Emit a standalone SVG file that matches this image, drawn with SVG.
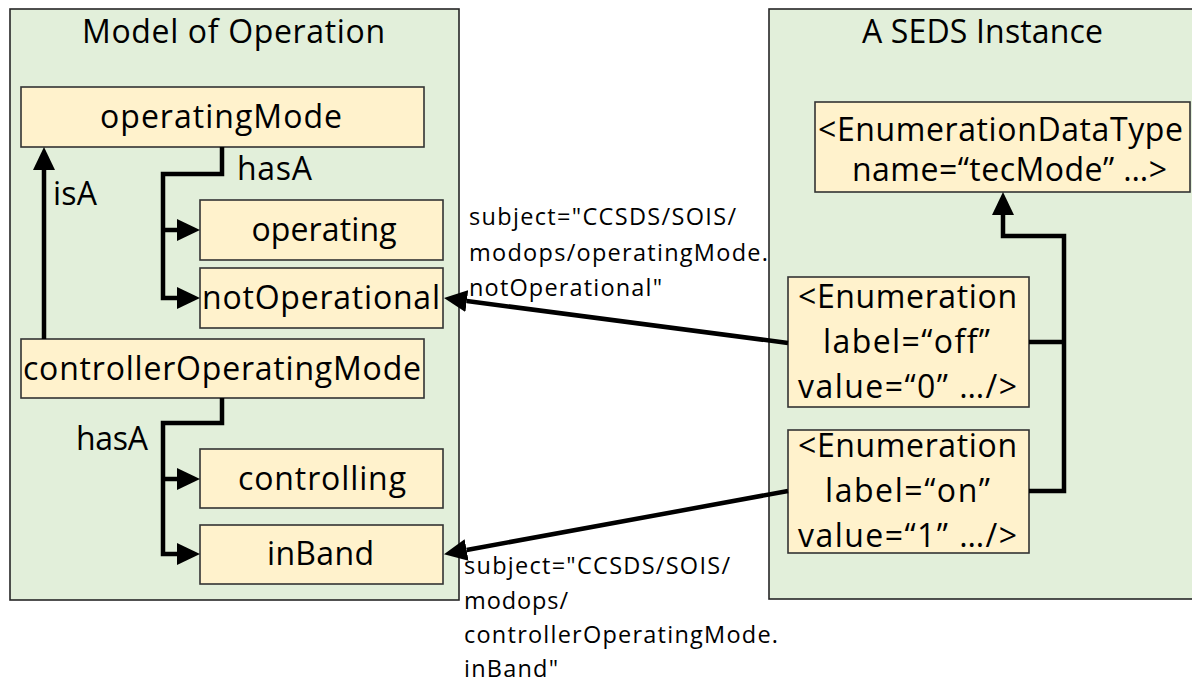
<svg xmlns="http://www.w3.org/2000/svg" width="1192" height="684" viewBox="0 0 1192 684">
  <style>
    .panel { fill: #E2EFDA; stroke: #262626; stroke-width: 1.6; }
    .box { fill: #FFF2CC; stroke: #333333; stroke-width: 1.6; }
    .t { font-family: "Open Sans", "Liberation Sans", sans-serif; font-size: 32px; fill: #000; font-variant-ligatures: none; }
    .s { font-family: "Open Sans", "Liberation Sans", sans-serif; font-size: 23.5px; fill: #000; font-variant-ligatures: none; }
    .c { text-anchor: middle; }
    .link { fill: none; stroke: #000; stroke-width: 4.5; stroke-linejoin: miter; }
  </style>
  <defs>
    <marker id="head" viewBox="0 0 23 22" refX="0" refY="11" markerWidth="23" markerHeight="22" markerUnits="userSpaceOnUse" orient="auto">
      <path d="M0,0 L23,11 L0,22 z" fill="#000"/>
    </marker>
  </defs>

  <rect width="1192" height="684" fill="#fff"/>

  <!-- containers -->
  <g id="model-of-operation">
    <rect class="panel" x="10" y="9" width="449" height="591"/>
    <text class="t" x="82" y="43" textLength="303" lengthAdjust="spacing">Model of Operation</text>
  </g>
  <g id="seds-instance">
    <rect class="panel" x="769" y="9" width="430" height="590"/>
    <text class="t" x="862" y="43" textLength="241" lengthAdjust="spacing">A SEDS Instance</text>
  </g>

  <!-- model nodes -->
  <g id="operatingMode">
    <rect class="box" x="21" y="87" width="403" height="60"/>
    <text class="t c" x="221" y="128" textLength="242" lengthAdjust="spacing">operatingMode</text>
  </g>
  <g id="operating">
    <rect class="box" x="200" y="200" width="243" height="60"/>
    <text class="t c" x="324" y="241" textLength="145" lengthAdjust="spacing">operating</text>
  </g>
  <g id="notOperational">
    <rect class="box" x="200" y="268" width="243" height="60"/>
    <text class="t c" x="321" y="309" textLength="238" lengthAdjust="spacing">notOperational</text>
  </g>
  <g id="controllerOperatingMode">
    <rect class="box" x="21" y="339" width="403" height="59"/>
    <text class="t c" x="222" y="380" textLength="398" lengthAdjust="spacing">controllerOperatingMode</text>
  </g>
  <g id="controlling">
    <rect class="box" x="200" y="449" width="243" height="59"/>
    <text class="t c" x="322" y="490" textLength="168" lengthAdjust="spacing">controlling</text>
  </g>
  <g id="inBand">
    <rect class="box" x="200" y="525" width="243" height="59"/>
    <text class="t c" x="320.5" y="565" textLength="107" lengthAdjust="spacing">inBand</text>
  </g>

  <!-- SEDS nodes -->
  <g id="enumerationDataType">
    <rect class="box" x="815" y="102" width="375" height="90"/>
    <text class="t" x="818" y="141" textLength="365" lengthAdjust="spacing">&lt;EnumerationDataType</text>
    <text class="t" x="852" y="181" textLength="315" lengthAdjust="spacing">name=“tecMode” …&gt;</text>
  </g>
  <g id="enumeration-off">
    <rect class="box" x="788" y="277" width="241" height="130"/>
    <text class="t" x="798" y="308" textLength="219" lengthAdjust="spacing">&lt;Enumeration</text>
    <text class="t" x="823" y="353" textLength="167" lengthAdjust="spacing">label=“off”</text>
    <text class="t" x="798" y="398" textLength="219" lengthAdjust="spacing">value=“0” …/&gt;</text>
  </g>
  <g id="enumeration-on">
    <rect class="box" x="788" y="430" width="241" height="123"/>
    <text class="t" x="798" y="457" textLength="219" lengthAdjust="spacing">&lt;Enumeration</text>
    <text class="t" x="825" y="502" textLength="165" lengthAdjust="spacing">label=“on”</text>
    <text class="t" x="798" y="547" textLength="219" lengthAdjust="spacing">value=“1” …/&gt;</text>
  </g>

  <!-- connectors -->
  <g id="connectors">
    <!-- isA -->
    <path class="link" d="M44,339 V170" marker-end="url(#head)"/>
    <text class="t" x="53" y="205" textLength="44" lengthAdjust="spacing">isA</text>
    <!-- operatingMode hasA -->
    <path class="link" d="M222,147 V174 H163 V298 H177" marker-end="url(#head)"/>
    <path class="link" d="M163,230 H177" marker-end="url(#head)"/>
    <text class="t" x="237" y="180" textLength="75" lengthAdjust="spacing">hasA</text>
    <!-- controllerOperatingMode hasA -->
    <path class="link" d="M222,398 V423 H163 V554 H177" marker-end="url(#head)"/>
    <path class="link" d="M163,479 H177" marker-end="url(#head)"/>
    <text class="t" x="76" y="450" textLength="72" lengthAdjust="spacing">hasA</text>
    <!-- enumerations belong to the data type -->
    <path class="link" d="M1029,342 H1064"/>
    <path class="link" d="M1029,491 H1064 V236 H1003 V215" marker-end="url(#head)"/>
    <!-- subject references -->
    <path class="link" d="M788,343 L466.8,301" marker-end="url(#head)"/>
    <path class="link" d="M788,491 L466.6,550" marker-end="url(#head)"/>
    <g id="subject-notOperational">
      <text class="s" x="469" y="225" textLength="267" lengthAdjust="spacing">subject="CCSDS/SOIS/</text>
      <text class="s" x="469" y="261" textLength="299" lengthAdjust="spacing">modops/operatingMode.</text>
      <text class="s" x="469" y="296" textLength="193" lengthAdjust="spacing">notOperational"</text>
    </g>
    <g id="subject-inBand">
      <text class="s" x="464" y="574" textLength="266" lengthAdjust="spacing">subject="CCSDS/SOIS/</text>
      <text class="s" x="464" y="609" textLength="104" lengthAdjust="spacing">modops/</text>
      <text class="s" x="464" y="643" textLength="314" lengthAdjust="spacing">controllerOperatingMode.</text>
      <text class="s" x="464" y="677" textLength="94" lengthAdjust="spacing">inBand"</text>
    </g>
  </g>
</svg>
